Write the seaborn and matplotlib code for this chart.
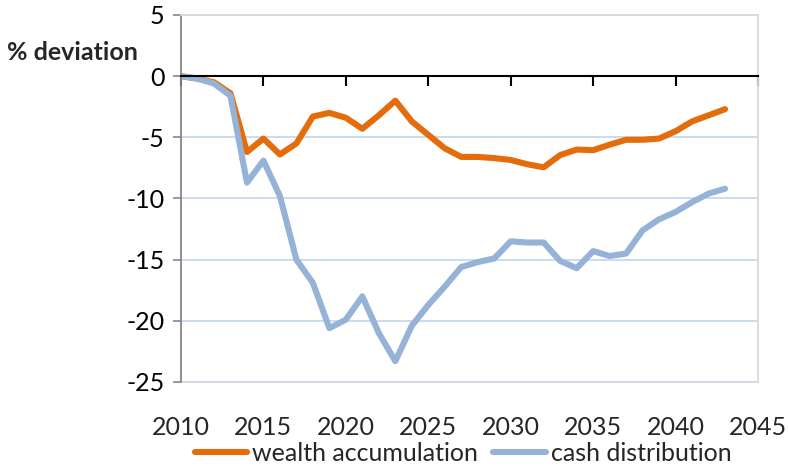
import matplotlib
matplotlib.use("Agg")
import matplotlib.pyplot as plt
import seaborn as sns
import pandas as pd

years = list(range(2010, 2044))
wealth_accumulation = [0.0, -0.2, -0.5, -1.4, -6.2, -5.1, -6.4, -5.5, -3.3, -3.0,
                       -3.4, -4.3, -3.2, -2.0, -3.7, -4.8, -5.9, -6.6, -6.6, -6.7,
                       -6.85, -7.2, -7.45, -6.45, -6.0, -6.05, -5.6, -5.2, -5.2, -5.1,
                       -4.5, -3.7, -3.2, -2.7]
cash_distribution = [0.0, -0.2, -0.6, -1.6, -8.7, -6.9, -9.8, -15.0, -16.9, -20.6,
                     -19.9, -18.0, -21.0, -23.3, -20.4, -18.7, -17.2, -15.6, -15.2, -14.9,
                     -13.5, -13.6, -13.6, -15.1, -15.7, -14.3, -14.7, -14.5, -12.6, -11.7,
                     -11.1, -10.3, -9.6, -9.2]
series_names = ["wealth accumulation", "cash distribution"]
series_colors = ["#E46C0A", "#95B3D7"]
x_ticks = [2010, 2015, 2020, 2025, 2030, 2035, 2040, 2045]
y_ticks = [-25, -20, -15, -10, -5, 0, 5]

df = pd.DataFrame({
    "year": years * 2,
    "value": wealth_accumulation + cash_distribution,
    "series": [series_names[0]] * len(years) + [series_names[1]] * len(years),
})

sns.set_theme(style="white")
plt.rcParams["font.family"] = ["Lato", "DejaVu Sans"]
FS = 18

fig = plt.figure(figsize=(7.88, 4.66), dpi=100)
ax = fig.add_axes([181/788, 1 - 382/466, (758 - 181)/788, (382 - 15)/466])

sns.lineplot(data=df, x="year", y="value", hue="series", hue_order=series_names,
             palette=series_colors, linewidth=4.4, ax=ax, legend=True,
             solid_joinstyle="round", solid_capstyle="round")

ax.set_xlim(2010, 2045)
ax.set_ylim(-25, 5)
ax.set_yticks(y_ticks)
ax.set_yticklabels([str(v) for v in y_ticks], fontsize=FS)
ax.set_xticks(x_ticks)
ax.tick_params(axis="x", which="both", direction="out", length=7, width=1.5,
               color="black", labelbottom=False, bottom=True)
ax.tick_params(axis="y", direction="out", length=6, width=1.2, color="#868686",
               left=True, pad=6, labelcolor="black")
ax.set_xlabel("")
ax.set_ylabel("")

# grid lines
ax.grid(axis="y", color="#C6D9F1", linewidth=1.3)
ax.grid(axis="x", visible=False)
ax.set_axisbelow(True)

# spines
ax.spines["bottom"].set_position(("data", 0))
ax.spines["bottom"].set_color("black")
ax.spines["bottom"].set_linewidth(1.5)
ax.spines["left"].set_color("#868686")
ax.spines["left"].set_linewidth(1.3)
for s in ["top", "right"]:
    ax.spines[s].set_color("#D9D9D9")
    ax.spines[s].set_linewidth(1.3)
    ax.spines[s].set_visible(True)

# lower labelled axis as the bottom border
sec = ax.secondary_xaxis("bottom", functions=(lambda v: v, lambda v: v))
sec.set_xticks(x_ticks)
sec.set_xticklabels([str(v) for v in x_ticks], fontsize=FS)
sec.tick_params(axis="x", length=0, pad=24.5)
sec.spines["bottom"].set_color("#D9D9D9")
sec.spines["bottom"].set_linewidth(1.3)

fig.text(72/788, 1 - 53/466, "% deviation", fontsize=FS, fontweight="bold",
         ha="center", va="center")

handles, labels = ax.get_legend_handles_labels()
ax.legend_.remove()
fig.legend(handles, labels, loc="center", bbox_to_anchor=(463/788, 1 - 453.5/466),
           ncol=2, frameon=False, fontsize=FS, handlelength=2.1, handletextpad=0.2,
           columnspacing=0.6, borderaxespad=0)

fig.savefig("out.png", dpi=100)
